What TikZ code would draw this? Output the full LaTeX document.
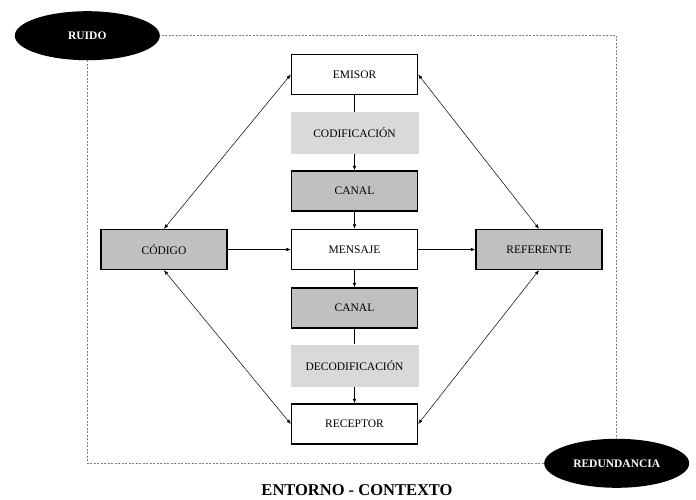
\documentclass[tikz,border=0pt]{standalone}
\usepackage{fontspec}
\setmainfont{Liberation Serif}
\usetikzlibrary{arrows.meta,shapes.geometric}
\definecolor{darkfill}{HTML}{C0C0C0}
\definecolor{lightfill}{HTML}{D9D9D9}
\tikzset{
  whitebox/.style={draw=black,line width=1.4pt,fill=white,minimum width=126pt,minimum height=40pt,inner sep=0pt,font=\fontsize{11.5}{13}\selectfont},
  graybox/.style={whitebox,fill=darkfill},
  labelbox/.style={fill=lightfill,minimum width=128pt,minimum height=42pt,inner sep=0pt,font=\fontsize{11.5}{13}\selectfont},
  blackoval/.style={ellipse,fill=black,text=white,minimum width=145pt,minimum height=49pt,inner sep=0pt,font=\bfseries\fontsize{11.5}{13}\selectfont},
  flow/.style={line width=0.5pt,-{Latex[length=4.5pt,width=3.5pt]}},
  plain/.style={line width=0.5pt},
  both/.style={line width=0.5pt,{Latex[length=4.5pt,width=3.5pt]}-{Latex[length=4.5pt,width=3.5pt]}},
  frame/.style={draw=gray,line width=0.5pt,dash pattern=on 2pt off 1.5pt}
}
\begin{document}
\begin{tikzpicture}[x=1pt,y=-1pt]
\useasboundingbox (0,0) rectangle (696,500);
\draw[frame] (87.3,35.7) rectangle (616.7,463.3);
\coordinate (tl) at (87.3,35.7);
\coordinate (br) at (616.7,463.3);

\node[labelbox] (codif) at (354.5,133) {CODIFICACIÓN};
\node[labelbox] (decod) at (354.5,365.5) {DECODIFICACIÓN};
\node[whitebox] (emisor) at (354.5,74.5) {EMISOR};
\node[graybox] (canal1) at (354.5,191) {CANAL};
\node[whitebox] (mensaje) at (354.5,249.5) {MENSAJE};
\node[graybox] (canal2) at (354.5,308) {CANAL};
\node[whitebox] (receptor) at (354.5,424) {RECEPTOR};
\node[graybox] (codigo) at (164,249.5) {CÓDIGO};
\node[graybox] (referente) at (539,249.5) {REFERENTE};

\node[blackoval] (ruido) at (tl) {RUIDO};
\node[blackoval] (redund) at (br) {REDUNDANCIA};

\node[font=\bfseries\fontsize{16.5}{19}\selectfont] (entorno) at (357,490) {ENTORNO - CONTEXTO};

\draw[plain] (emisor.south) -- (codif.north);
\draw[flow] (codif.south) -- (canal1.north);
\draw[flow] (canal1.south) -- (mensaje.north);
\draw[flow] (mensaje.south) -- (canal2.north);
\draw[plain] (canal2.south) -- (decod.north);
\draw[flow] (decod.south) -- (receptor.north);

\draw[flow] (codigo.east) -- (mensaje.west);
\draw[flow] (mensaje.east) -- (referente.west);

\draw[both] (codigo.north) -- (emisor.west);
\draw[both] (emisor.east) -- (referente.north);
\draw[both] (codigo.south) -- (receptor.west);
\draw[both] (receptor.east) -- (referente.south);
\end{tikzpicture}
\end{document}
